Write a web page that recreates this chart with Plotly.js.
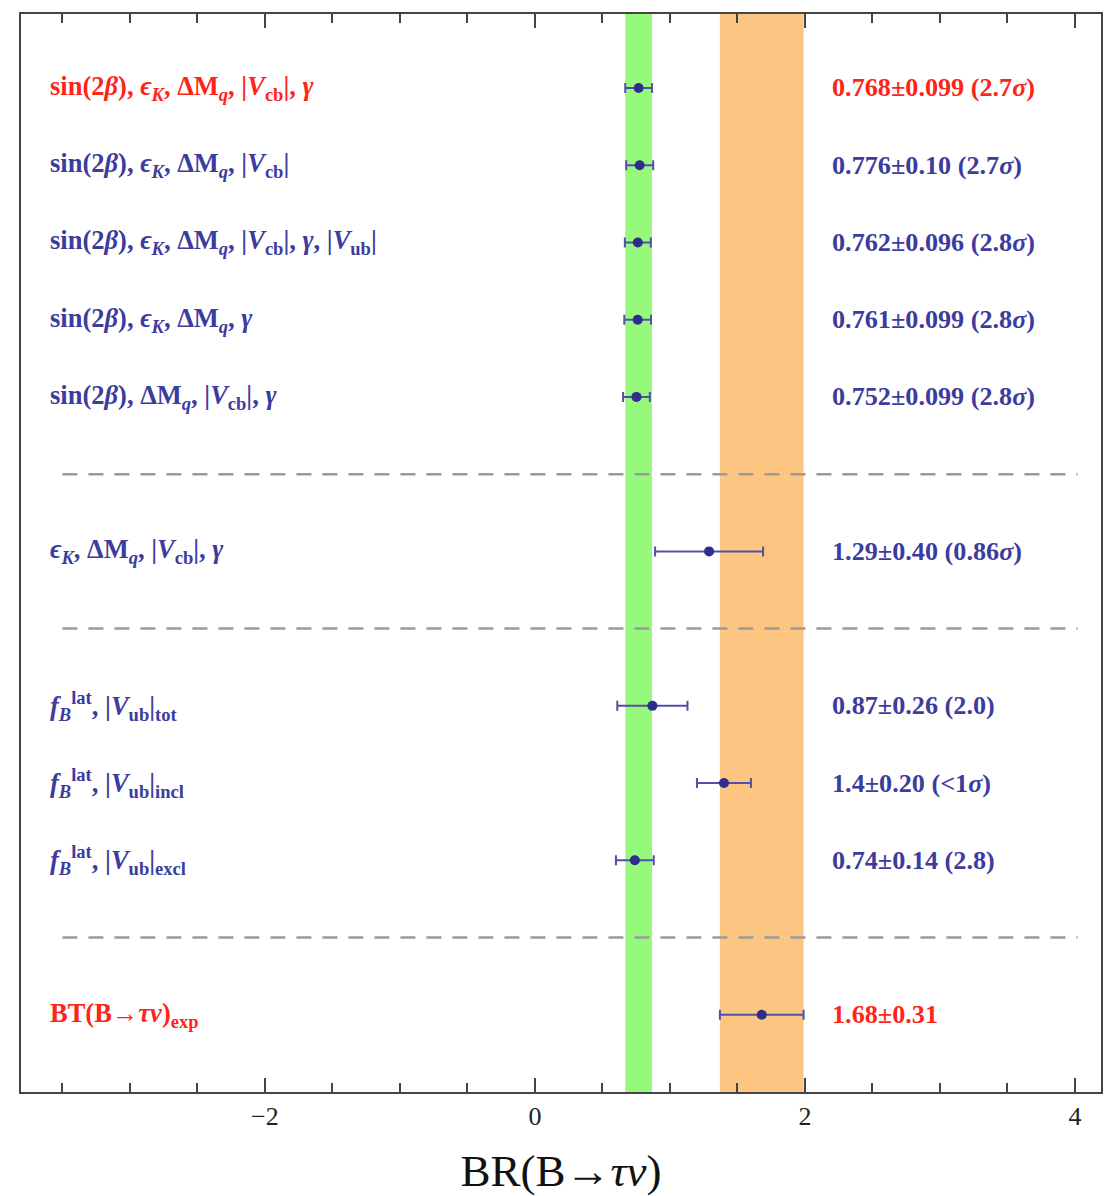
<!DOCTYPE html>
<html>
<head>
<meta charset="utf-8">
<script src="https://cdn.plot.ly/plotly-3.0.1.min.js"></script>
<style>html,body{margin:0;padding:0;background:#fff;}#chart{width:1104px;height:1196px;}</style>
</head>
<body>
<div id="chart"></div>
<script>
// ---- data ----
const rowPos = [0, 1, 2, 3, 4, 6, 8, 9, 10, 12];
const centers = [0.768, 0.776, 0.762, 0.761, 0.752, 1.29, 0.87, 1.4, 0.74, 1.68];
const errors = [0.099, 0.10, 0.096, 0.099, 0.099, 0.40, 0.26, 0.20, 0.14, 0.31];
const labels = [
  "sin(2<i>β</i>), <i>ϵ</i><sub><i>K</i></sub>, ΔM<sub><i>q</i></sub>, |<i>V</i><sub>cb</sub>|, <i>γ</i>",
  "sin(2<i>β</i>), <i>ϵ</i><sub><i>K</i></sub>, ΔM<sub><i>q</i></sub>, |<i>V</i><sub>cb</sub>|",
  "sin(2<i>β</i>), <i>ϵ</i><sub><i>K</i></sub>, ΔM<sub><i>q</i></sub>, |<i>V</i><sub>cb</sub>|, <i>γ</i>, |<i>V</i><sub>ub</sub>|",
  "sin(2<i>β</i>), <i>ϵ</i><sub><i>K</i></sub>, ΔM<sub><i>q</i></sub>, <i>γ</i>",
  "sin(2<i>β</i>), ΔM<sub><i>q</i></sub>, |<i>V</i><sub>cb</sub>|, <i>γ</i>",
  "<i>ϵ</i><sub><i>K</i></sub>, ΔM<sub><i>q</i></sub>, |<i>V</i><sub>cb</sub>|, <i>γ</i>",
  "<i>f</i><sub><i>B</i></sub><sup>lat</sup>, |<i>V</i><sub>ub</sub>|<sub>tot</sub>",
  "<i>f</i><sub><i>B</i></sub><sup>lat</sup>, |<i>V</i><sub>ub</sub>|<sub>incl</sub>",
  "<i>f</i><sub><i>B</i></sub><sup>lat</sup>, |<i>V</i><sub>ub</sub>|<sub>excl</sub>",
  "BT(B→<i>τν</i>)<sub>exp</sub>"
];
const valueTexts = [
  "0.768±0.099 (2.7<i>σ</i>)",
  "0.776±0.10 (2.7<i>σ</i>)",
  "0.762±0.096 (2.8<i>σ</i>)",
  "0.761±0.099 (2.8<i>σ</i>)",
  "0.752±0.099 (2.8<i>σ</i>)",
  "1.29±0.40 (0.86<i>σ</i>)",
  "0.87±0.26 (2.0)",
  "1.4±0.20 (&lt;1<i>σ</i>)",
  "0.74±0.14 (2.8)",
  "1.68±0.31"
];
const highlighted = [true, false, false, false, false, false, false, false, false, true];
const separatorRows = [5, 7, 11];
const separatorX = [-3.5, 4.02];
const fitBand = {center: 0.768, err: 0.099};
const expBand = {center: 1.68, err: 0.31};
const labelX = -3.607;
const valueX = 2.185;
const xRange = [-3.807, 4.193];
const yRange = [13.0, -0.958];

// ---- styles ----
const BLUE = "#3c3c9e";
const RED = "#ff2418";
const FONT = "Liberation Serif, Times New Roman, serif";

const traces = [];
separatorRows.forEach(r => {
  traces.push({
    x: separatorX, y: [r, r], mode: "lines", type: "scatter",
    line: {color: "#9a9a9a", width: 2.5, dash: "15px,11px"},
    hoverinfo: "skip", showlegend: false
  });
});
traces.push({
  x: centers, y: rowPos, type: "scatter", mode: "markers",
  marker: {color: "#2e2e8e", size: 10},
  error_x: {type: "data", array: errors, visible: true, color: "#5050a8", thickness: 2, width: 5},
  showlegend: false, hoverinfo: "skip"
});

const shapes = [fitBand, expBand].map((b, i) => ({
  type: "rect", xref: "x", yref: "paper", layer: "below",
  x0: b.center - b.err, x1: b.center + b.err, y0: 0, y1: 1,
  fillcolor: i === 0 ? "#96f97c" : "#fdc582", line: {width: 0}
}));

const annotations = [];
rowPos.forEach((r, i) => {
  const col = highlighted[i] ? RED : BLUE;
  annotations.push({
    x: labelX, y: r, xref: "x", yref: "y", text: labels[i], showarrow: false,
    xanchor: "left", yanchor: "middle", font: {family: FONT, size: 26.5, weight: "bold", color: col}
  });
  annotations.push({
    x: valueX, y: r, xref: "x", yref: "y", text: valueTexts[i], showarrow: false,
    xanchor: "left", yanchor: "middle", font: {family: FONT, size: 26.2, weight: "bold", color: col}
  });
});

const layout = {
  width: 1104, height: 1196,
  margin: {l: 21, r: 3, t: 14, b: 104},
  paper_bgcolor: "#fff", plot_bgcolor: "#fff",
  showlegend: false,
  xaxis: {
    range: xRange, showgrid: false, zeroline: false,
    showline: true, linecolor: "#444", linewidth: 2, mirror: "ticks",
    ticks: "inside", ticklen: 14, tickwidth: 2, tickcolor: "#444",
    tick0: 0, dtick: 2,
    minor: {dtick: 0.5, ticks: "inside", ticklen: 9, tickwidth: 2, tickcolor: "#444", showgrid: false},
    tickfont: {family: FONT, size: 26, color: "#222"},
    title: {text: "BR(B→<i>τν</i>)", font: {family: FONT, size: 45, color: "#111"}, standoff: 26}
  },
  yaxis: {
    range: yRange, showgrid: false, zeroline: false, showticklabels: false,
    showline: true, linecolor: "#444", linewidth: 2, mirror: true, ticks: ""
  },
  shapes: shapes,
  annotations: annotations
};

Plotly.newPlot("chart", traces, layout, {displayModeBar: false, staticPlot: true});
</script>
</body>
</html>
